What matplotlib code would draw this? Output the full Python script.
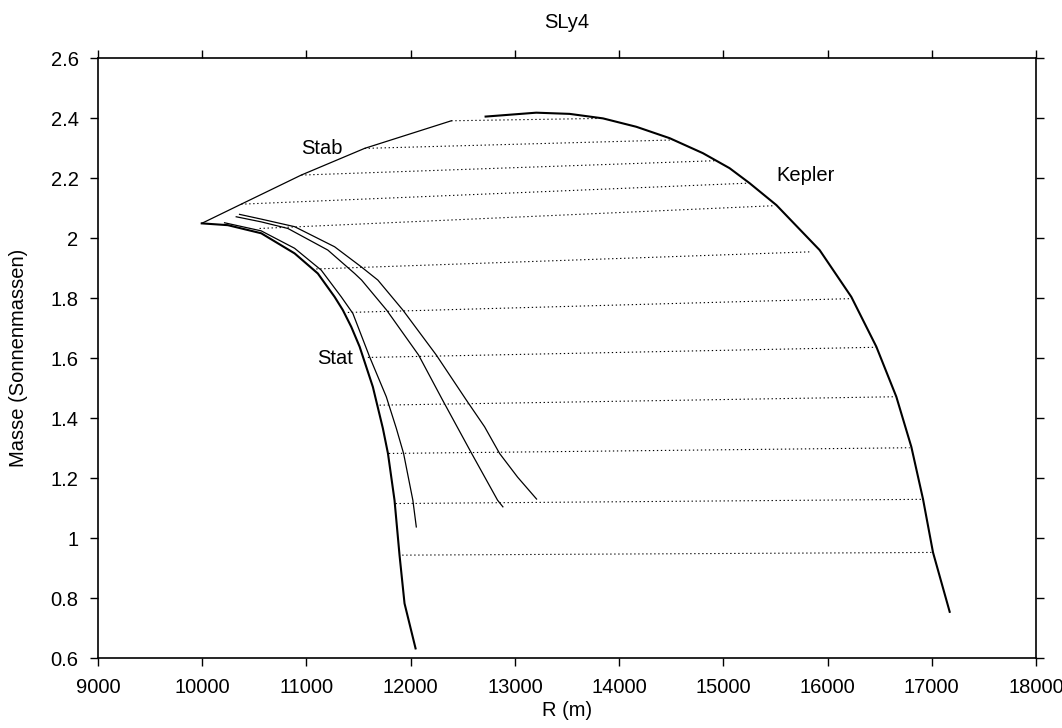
import matplotlib
matplotlib.use("Agg")
import matplotlib.pyplot as plt

plt.rcParams['font.family'] = ['Liberation Sans', 'DejaVu Sans']

# static sequence (thick)
stat_r = [9995, 10246, 10566, 10886, 11109, 11270, 11349, 11430, 11510,
          11637, 11733, 11782, 11845, 11893, 11941, 12047]
stat_m = [2.050, 2.044, 2.017, 1.950, 1.883, 1.805, 1.761, 1.705, 1.639,
          1.505, 1.367, 1.283, 1.127, 0.944, 0.783, 0.633]

# rotating sequences next to the static one
rot1_r = [10214, 10566, 10886, 11142, 11334, 11445, 11606, 11766, 11862,
          11932, 12021, 12054]
rot1_m = [2.052, 2.025, 1.967, 1.894, 1.805, 1.750, 1.605, 1.472, 1.367,
          1.283, 1.127, 1.038]

rot2_r = [10326, 10566, 10822, 11205, 11462, 11529, 11769, 12076, 12306,
          12585, 12834, 12885]
rot2_m = [2.072, 2.055, 2.033, 1.961, 1.883, 1.861, 1.761, 1.611, 1.461,
          1.283, 1.127, 1.105]

rot3_r = [10358, 10569, 10886, 11270, 11526, 11685, 11925, 12246, 12534,
          12709, 12853, 13026, 13208]
rot3_m = [2.080, 2.064, 2.039, 1.972, 1.905, 1.861, 1.761, 1.611, 1.461,
          1.372, 1.283, 1.204, 1.131]

# stability limit
stab_r = [9995, 10374, 10950, 11558, 12390]
stab_m = [2.050, 2.114, 2.211, 2.300, 2.392]

# Kepler (mass-shedding) limit
kep_r = [12719, 13205, 13525, 13845, 14165, 14485, 14804, 15060, 15252,
         15509, 15924, 16228, 16468, 16660, 16804, 16916, 17012, 17172]
kep_m = [2.406, 2.419, 2.415, 2.400, 2.372, 2.334, 2.284, 2.234, 2.184,
         2.111, 1.961, 1.805, 1.639, 1.472, 1.305, 1.131, 0.953, 0.755]

# constant baryon mass sequences: start (r0, m0) -> end (r1, m1)
seq_r0 = [12390, 11558, 10950, 10374, 10550, 11094, 11397, 11589, 11702,
          11791, 11855, 11919]
seq_m0 = [2.392, 2.300, 2.211, 2.114, 2.033, 1.898, 1.753, 1.603, 1.444,
          1.283, 1.116, 0.944]
seq_r1 = [13845, 14514, 14933, 15236, 15492, 15828, 16212, 16468, 16644,
          16788, 16900, 16996]
seq_m1 = [2.400, 2.328, 2.259, 2.184, 2.109, 1.955, 1.799, 1.637, 1.472,
          1.302, 1.130, 0.953]

xticks = [9000, 10000, 11000, 12000, 13000, 14000, 15000, 16000, 17000, 18000]
yticks = [0.6, 0.8, 1.0, 1.2, 1.4, 1.6, 1.8, 2.0, 2.2, 2.4, 2.6]
ytick_labels = ['0.6', '0.8', '1', '1.2', '1.4', '1.6', '1.8', '2', '2.2', '2.4', '2.6']

FS = 14.5

fig = plt.figure(figsize=(10.62, 7.28), dpi=100)
ax = fig.add_axes([0.0923, 0.0957, 0.8832, 0.8241])

for r0, m0, r1, m1 in zip(seq_r0, seq_m0, seq_r1, seq_m1):
    ax.plot([r0, r1], [m0, m1], color='black', lw=0.8,
            linestyle=(0, (1.2, 2.4)))

ax.plot(stat_r, stat_m, color='black', lw=1.5)
ax.plot(rot1_r, rot1_m, color='black', lw=0.9)
ax.plot(rot2_r, rot2_m, color='black', lw=0.9)
ax.plot(rot3_r, rot3_m, color='black', lw=0.9)
ax.plot(stab_r, stab_m, color='black', lw=0.9)
ax.plot(kep_r, kep_m, color='black', lw=1.5)

ax.text(11150, 2.298, 'Stab', fontsize=FS, ha='center', va='center')
ax.text(11277, 1.601, 'Stat', fontsize=FS, ha='center', va='center')
ax.text(15785, 2.209, 'Kepler', fontsize=FS, ha='center', va='center')

ax.set_xlim(9000, 18000)
ax.set_ylim(0.6, 2.6)
ax.set_xticks(xticks)
ax.set_yticks(yticks)
ax.set_yticklabels(ytick_labels)
ax.tick_params(direction='out', length=6, width=1, pad=8, labelsize=FS,
               top=True, right=True)
for s in ax.spines.values():
    s.set_linewidth(1.2)

ax.set_title('SLy4', fontsize=FS, pad=22)
ax.set_xlabel('R (m)', fontsize=FS, labelpad=3)
ax.set_ylabel('Masse (Sonnenmassen)', fontsize=FS, labelpad=16)

fig.savefig('out.png', dpi=100)
